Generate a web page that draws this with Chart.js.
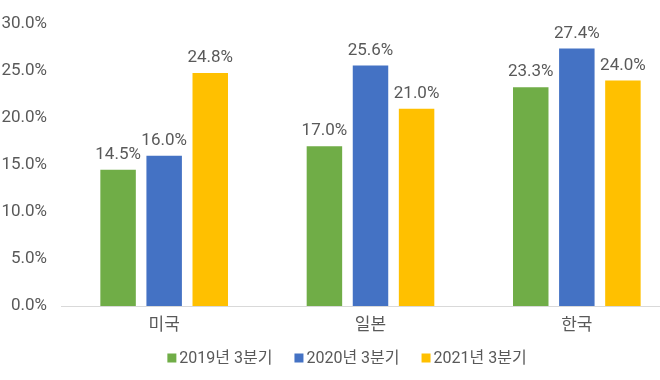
<!DOCTYPE html>
<html><head><meta charset="utf-8">
<script src="https://cdn.jsdelivr.net/npm/chart.js@4"></script>
<style>
html,body{margin:0;padding:0;background:#fff;overflow:hidden;}
#wrap{width:680px;height:380px;position:relative;}
</style></head>
<body><div id="wrap"><canvas id="c"></canvas></div>
<script>
const categories = ['미국', '일본', '한국'];
const seriesNames = ['2019년 3분기', '2020년 3분기', '2021년 3분기'];
const values2019 = [14.5, 17.0, 23.3];
const values2020 = [16.0, 25.6, 27.4];
const values2021 = [24.8, 21.0, 24.0];
const yTicks = [0, 5, 10, 15, 20, 25, 30];
const colors = ['#70AD47', '#4472C4', '#FFC000'];

const FONT = "Roboto, 'Noto Sans CJK KR', sans-serif";
const TEXT = '#595959';
const FS = 17;

const labelPlugin = {
  id: 'barLabels',
  afterDatasetsDraw(chart) {
    const ctx = chart.ctx;
    ctx.save();
    ctx.font = FS + 'px ' + FONT;
    ctx.fillStyle = TEXT;
    ctx.textAlign = 'center';
    ctx.textBaseline = 'alphabetic';
    chart.data.datasets.forEach((ds, i) => {
      chart.getDatasetMeta(i).data.forEach((bar, j) => {
        ctx.fillText(ds.data[j].toFixed(1) + '%', bar.x, bar.y - 11);
      });
    });
    ctx.restore();
  }
};

const legendPlugin = {
  id: 'customLegend',
  afterDraw(chart) {
    const ctx = chart.ctx;
    ctx.save();
    ctx.font = '16px ' + FONT;
    ctx.textBaseline = 'middle';
    ctx.textAlign = 'left';
    const box = 9, gapBox = 3, gapItem = 22;
    const items = chart.data.datasets.map(ds => ({ text: ds.label, color: ds.backgroundColor, w: ctx.measureText(ds.label).width }));
    const total = items.reduce((s, it) => s + box + gapBox + it.w, 0) + gapItem * (items.length - 1);
    let x = 347 - total / 2;
    const yc = 358;
    items.forEach(it => {
      ctx.fillStyle = it.color;
      ctx.fillRect(x, yc - box / 2, box, box);
      x += box + gapBox;
      ctx.fillStyle = TEXT;
      ctx.fillText(it.text, x, yc + 1);
      x += it.w + gapItem;
    });
    ctx.restore();
  }
};

new Chart(document.getElementById('c'), {
  type: 'bar',
  data: {
    labels: categories,
    datasets: [
      { label: seriesNames[0], data: values2019, backgroundColor: colors[0] },
      { label: seriesNames[1], data: values2020, backgroundColor: colors[1] },
      { label: seriesNames[2], data: values2021, backgroundColor: colors[2] }
    ]
  },
  options: {
    responsive: true,
    maintainAspectRatio: false,
    animation: false,
    layout: { padding: { top: 11, left: 0, right: 0, bottom: 0 } },
    datasets: { bar: { categoryPercentage: 0.67, barPercentage: 0.77 } },
    plugins: {
      legend: { display: false },
      tooltip: { enabled: false }
    },
    scales: {
      x: {
        afterFit(axis) { axis.height = 74; },
        grid: { display: false, drawTicks: false },
        border: { color: '#D9D9D9', width: 1 },
        ticks: { font: { family: FONT, size: FS }, color: TEXT, padding: 10 }
      },
      y: {
        min: 0, max: 30,
        afterFit(axis) { axis.width = 61; },
        afterBuildTicks(axis) { axis.ticks = yTicks.map(v => ({ value: v })); },
        grid: { display: false, drawTicks: false },
        border: { display: false },
        ticks: {
          font: { family: FONT, size: FS }, color: TEXT, padding: 14,
          callback: v => v.toFixed(1) + '%'
        }
      }
    }
  },
  plugins: [labelPlugin, legendPlugin]
});
</script></body></html>
